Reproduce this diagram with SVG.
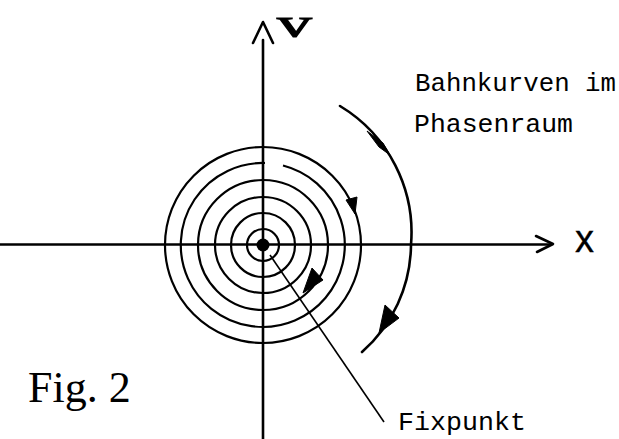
<svg xmlns="http://www.w3.org/2000/svg" width="619" height="439" viewBox="0 0 619 439">
<style>
.ax{stroke:#000;stroke-width:2.6;fill:none;stroke-linecap:round;stroke-linejoin:round}
.orb{stroke:#000;stroke-width:2.2;fill:none}
.traj{stroke:#000;stroke-width:2.6;fill:none;stroke-linecap:round}
.head{fill:#000;stroke:#000;stroke-width:1;stroke-linejoin:round}
.lead{stroke:#000;stroke-width:1.6;fill:none}
.mono{font-family:"Liberation Mono","DejaVu Sans Mono",monospace;font-size:26px;fill:#000}
</style>
<rect width="619" height="439" fill="#fff"/>
<g id="axes">
  <line class="ax" x1="0" y1="244.5" x2="551" y2="244.5"/>
  <polyline class="ax" points="536,236 553,244 537,252"/>
  <line class="ax" x1="263" y1="40" x2="263" y2="439"/>
  <polyline class="ax" points="253,43 263,22 273,43"/>
  <text x="277" y="37.5" font-family="Liberation Serif,serif" font-size="41" stroke="#000" stroke-width="1" transform="translate(277 37.5) scale(1.7 1) translate(-277 -37.5)">v</text>
  <text x="575" y="252" font-family="Liberation Sans,sans-serif" font-size="38" stroke="#000" stroke-width="0.3">x</text>
</g>
<g id="orbits">
  <circle class="orb" cx="263" cy="245" r="16"/>
  <circle class="orb" cx="263" cy="245" r="32"/>
  <circle class="orb" cx="263" cy="245" r="48"/>
  <circle class="orb" cx="263" cy="245" r="65"/>
  <path class="orb" d="M283,165.5 A82 82 0 1 1 265,163"/>
  <circle class="orb" cx="263" cy="245" r="98"/>
  <polygon class="head" points="346,200 357,197 355,214"/>
  <polygon class="head" points="312,268 323,280 303,293"/>
</g>
<g id="fixpunkt">
  <circle cx="263" cy="245" r="6.5" fill="#000"/>
</g>
<g id="trajectory">
  <path class="traj" d="M340,106 A148 148 0 0 1 411,245 A145 145 0 0 1 362,352"/>
  <polygon class="head" points="367,131 383,143 390,155 379,147"/>
  <polygon class="head" points="385,305 399,318 379,333"/>
</g>
<g id="connectors">
  <line class="lead" x1="270" y1="255" x2="384" y2="422"/>
</g>
<g id="labels">
  <text class="mono" x="415" y="91" textLength="201" lengthAdjust="spacingAndGlyphs">Bahnkurven im</text>
  <text class="mono" x="414" y="132" textLength="159" lengthAdjust="spacingAndGlyphs">Phasenraum</text>
  <text class="mono" x="398" y="430" textLength="128" lengthAdjust="spacingAndGlyphs">Fixpunkt</text>
  <text x="28" y="402" font-family="Liberation Serif,serif" font-size="44">Fig. 2</text>
</g>
</svg>
